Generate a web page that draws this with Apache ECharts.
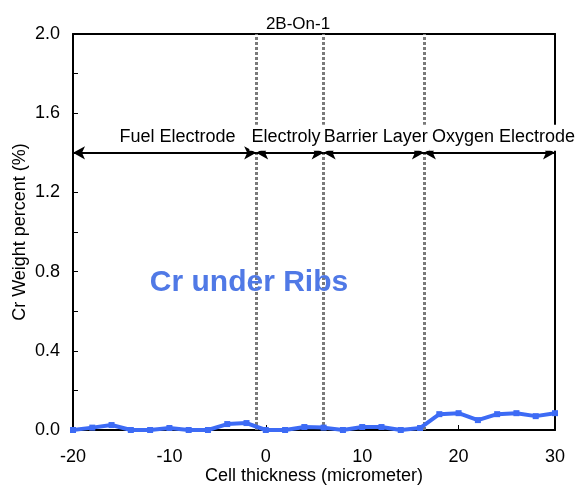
<!DOCTYPE html>
<html>
<head>
<meta charset="utf-8">
<script src="https://cdn.jsdelivr.net/npm/echarts@6/dist/echarts.min.js"></script>
<style>
  html, body { margin: 0; padding: 0; background: #fff; }
  #chart { width: 580px; height: 486px; }
</style>
</head>
<body>
<div id="chart"></div>
<script>
// Cr weight percent across the cell thickness (measured under the ribs)
const thickness = [-20, -18, -16, -14, -12, -10, -8, -6, -4, -2, 0, 2, 4, 6, 8, 10, 12, 14, 16, 18, 20, 22, 24, 26, 28, 30];
const crWeight = [0, 0.012, 0.025, 0, 0, 0.01, 0, 0, 0.03, 0.035, 0, 0, 0.015, 0.012, 0, 0.015, 0.015, 0, 0.01, 0.08, 0.085, 0.05, 0.08, 0.085, 0.07, 0.085];

// Layer boundaries (micrometer) and the layers between them
const boundaries = [-1, 6, 16.4];
const layerNames = ['Fuel Electrode', 'Electroly', 'Barrier Layer', 'Oxygen Electrode'];
const layerStart = [-20, -1, 6, 16.4];
const layerEnd = [-1, 6, 16.4, 30];
const layerArrowLevel = 1.4;
// horizontal nudge of each layer caption, px
const layerLabelShift = [13, -4, 2, 14];

const FONT = '"Liberation Sans", Arial, sans-serif';
const BLUE = '#3d6bf5';

const chart = echarts.init(document.getElementById('chart'), null, { renderer: 'canvas' });

const linePoints = thickness.map((x, i) => [x, crWeight[i]]);

const arrowData = layerNames.map((name, i) => [
  {
    coord: [layerStart[i], layerArrowLevel],
    name: name,
    label: { offset: [layerLabelShift[i], 0] }
  },
  { coord: [layerEnd[i], layerArrowLevel] }
]);

chart.setOption({
  animation: false,
  backgroundColor: '#fff',
  title: [
    {
      text: '2B-On-1',
      left: 293, top: 11, textAlign: 'center',
      textStyle: { fontFamily: FONT, fontSize: 17, fontWeight: 'normal', color: '#000' }
    },
    {
      text: 'Cr under Ribs',
      left: 244, top: 263, textAlign: 'center',
      textStyle: { fontFamily: FONT, fontSize: 30, fontWeight: 'bold', color: '#5079e6' }
    }
  ],
  grid: { left: 73, right: 25, top: 34, bottom: 56, containLabel: false, outerBoundsMode: 'none' },
  xAxis: [
    {
      type: 'value', min: -20, max: 30, interval: 10, position: 'bottom',
      name: 'Cell thickness (micrometer)', nameLocation: 'middle', nameGap: 37,
      nameMoveOverlap: false,
      nameTextStyle: { fontFamily: FONT, fontSize: 18, color: '#000' },
      axisLine: { show: true, onZero: false, lineStyle: { color: '#000', width: 2 } },
      axisTick: { show: true, inside: true, length: 5, lineStyle: { color: '#000', width: 1 } },
      axisLabel: { fontFamily: FONT, fontSize: 18, color: '#000', margin: 18 },
      splitLine: { show: false }
    },
    {
      type: 'value', min: -20, max: 30, position: 'top',
      axisLine: { show: true, onZero: false, lineStyle: { color: '#000', width: 2 } },
      axisTick: { show: false }, axisLabel: { show: false }, splitLine: { show: false }
    }
  ],
  yAxis: [
    {
      type: 'value', min: 0, max: 2, interval: 0.4, position: 'left',
      name: 'Cr Weight percent (%)', nameLocation: 'middle', nameGap: 44,
      nameMoveOverlap: false,
      nameTextStyle: { fontFamily: FONT, fontSize: 18, color: '#000' },
      axisLine: { show: true, onZero: false, lineStyle: { color: '#000', width: 2 } },
      axisTick: { show: true, inside: true, length: 5, lineStyle: { color: '#000', width: 1 } },
      minorTick: { show: true, splitNumber: 2, length: 5, lineStyle: { color: '#000', width: 1 } },
      axisLabel: { fontFamily: FONT, fontSize: 18, color: '#000', margin: 13, formatter: v => v.toFixed(1) },
      splitLine: { show: false }
    },
    {
      type: 'value', min: 0, max: 2, position: 'right',
      axisLine: { show: true, onZero: false, lineStyle: { color: '#000', width: 2 } },
      axisTick: { show: false }, axisLabel: { show: false }, splitLine: { show: false }
    }
  ],
  series: [
    {
      // layer boundaries
      type: 'line', data: [], z: 3, silent: true,
      markLine: {
        silent: true, symbol: 'none', animation: false,
        label: { show: false },
        lineStyle: { color: '#7a7a7a', width: 3, type: [3, 2] },
        data: boundaries.map(b => ({ xAxis: b }))
      }
    },
    {
      // layer extents with captions
      type: 'line', data: [], z: 6, silent: true,
      markLine: {
        silent: true, animation: false,
        symbol: ['arrow', 'arrow'], symbolSize: [10, 12],
        lineStyle: { color: '#000', width: 2, type: 'solid' },
        label: {
          show: true, position: 'insideMiddleTop', distance: 2,
          formatter: p => p.name,
          fontFamily: FONT, fontSize: 18, color: '#000',
          backgroundColor: '#fff', padding: [3, 2, 5, 2]
        },
        emphasis: { disabled: true },
        data: arrowData
      }
    },
    {
      name: 'Cr',
      type: 'line', data: linePoints, z: 5,
      symbol: 'rect', symbolSize: 6,
      itemStyle: { color: BLUE },
      lineStyle: { color: BLUE, width: 4 }
    }
  ]
});
</script>
</body>
</html>
